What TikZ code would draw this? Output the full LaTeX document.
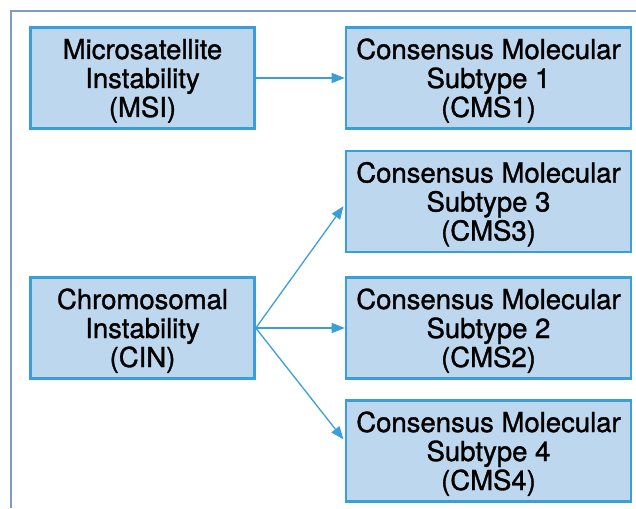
\documentclass[tikz,border=0pt]{standalone}
\usepackage{fontspec}
\setmainfont{TeX Gyre Heros}
\newfontfamily\boxfont{TeX Gyre Heros}[FakeBold=1.2]
\usetikzlibrary{arrows.meta}
\definecolor{boxfill}{HTML}{BDD7EE}
\definecolor{boxline}{HTML}{3A9FD8}
\definecolor{frameline}{HTML}{7E9CC6}
\begin{document}
\begin{tikzpicture}[x=1pt,y=-1pt,
  box/.style={draw=boxline, fill=boxfill, line width=2.6pt, minimum width=224pt, minimum height=101pt,
    align=center, inner sep=0pt, text height=84pt, text depth=6pt,
    font=\boxfont\fontsize{27.5}{29}\selectfont},
  conn/.style={draw=boxline, line width=1.3pt, -{Triangle[length=13pt,width=10pt]}}]
\useasboundingbox (0,0) rectangle (636,508);
\draw[frameline, line width=1.4pt] (11,508) -- (11,11) -- (636,11);
\node[box] (msi) at (142.5,78) {Microsatellite\\Instability\\(MSI)};
\node[box] (cin) at (142.5,328) {Chromosomal\\Instability\\(CIN)};
\node[box, minimum width=285pt] (cms1) at (488.5,78) {Consensus Molecular\\Subtype 1\\(CMS1)};
\node[box, minimum width=285pt] (cms3) at (488.5,201.5) {Consensus Molecular\\Subtype 3\\(CMS3)};
\node[box, minimum width=285pt] (cms2) at (488.5,328) {Consensus Molecular\\Subtype 2\\(CMS2)};
\node[box, minimum width=285pt] (cms4) at (488.5,451) {Consensus Molecular\\Subtype 4\\(CMS4)};
\draw[conn] (msi.east) -- (cms1.west);
\draw[conn, shorten >=2pt] (cin.east) -- ([yshift=-3pt]cms3.west);
\draw[conn] (cin.east) -- (cms2.west);
\draw[conn, shorten >=2pt] (cin.east) -- ([yshift=10pt]cms4.west);
\end{tikzpicture}
\end{document}
